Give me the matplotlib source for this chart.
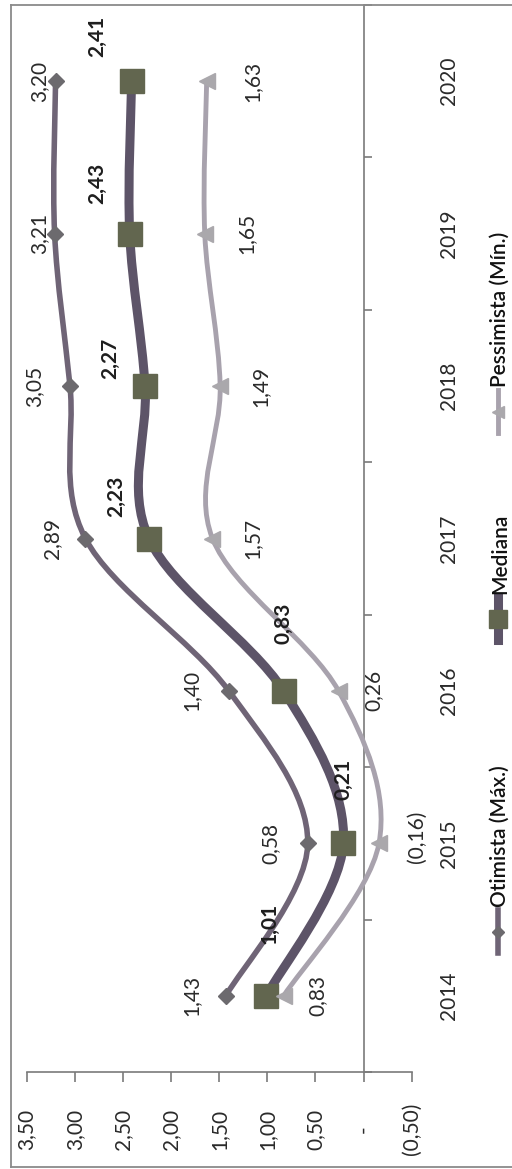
import matplotlib
matplotlib.use("Agg")
import matplotlib.pyplot as plt
from matplotlib.path import Path
from matplotlib.patches import PathPatch
from matplotlib.lines import Line2D
from matplotlib.ticker import FixedLocator
import numpy as np

# ---------------- data ----------------
years = ["2014", "2015", "2016", "2017", "2018", "2019", "2020"]
otimista = [1.43, 0.58, 1.40, 2.89, 3.05, 3.21, 3.20]
mediana = [1.01, 0.21, 0.83, 2.23, 2.27, 2.43, 2.41]
pessimista = [0.83, -0.16, 0.26, 1.57, 1.49, 1.65, 1.63]
value_ticks = [3.5, 3.0, 2.5, 2.0, 1.5, 1.0, 0.5, 0.0, -0.5]
series_names = ["Otimista (Máx.)", "Mediana", "Pessimista (Mín.)"]

# ---------------- styles ----------------
# label offsets in image pixels (dx to the right, dy upward)
oti_off = [(-35, 0), (-37, 0), (-37, 0), (-33, 0), (-36, 0), (-15, 0), (-16, 0)]
med_off = [(3, 72), (0, 64), (0, 68), (-33, 42), (-35, 28), (-32, 50), (-34, 45)]
pes_off = [(34, 0), (38, 7), (35, 0), (40, 0), (40, 0), (42, 0), (46, 0)]

c_oti = "#6f6476"
c_oti_m = "#6c6a6e"
c_med = "#5d5468"
c_med_m = "#62664f"
c_pes = "#a8a2ad"
c_pes_m = "#aaa8ac"
c_axis = "#7a7a7a"
c_text = "#2a2a2a"

plt.rcParams['font.family'] = ['Lato', 'DejaVu Sans']


def fmt(v):
    if abs(v) < 1e-9:
        return "-"
    s = f"{abs(v):.2f}".replace(".", ",")
    return f"({s})" if v < 0 else s


def smooth_path(xs, ys):
    pts = np.column_stack([xs, ys]).astype(float)
    n = len(pts)
    verts = [pts[0]]
    codes = [Path.MOVETO]
    for i in range(n - 1):
        p0 = pts[i - 1] if i > 0 else pts[i]
        p1 = pts[i]
        p2 = pts[i + 1]
        p3 = pts[i + 2] if i + 2 < n else pts[i + 1]
        c1 = p1 + (p2 - p0) / 6.0
        c2 = p2 - (p3 - p1) / 6.0
        verts += [c1, c2, p2]
        codes += [Path.CURVE4] * 3
    return Path(verts, codes)


W, H = 512, 1169
fig = plt.figure(figsize=(W / 100, H / 100), dpi=100)


def px_rect(x0, y0, x1, y1):
    return [x0 / W, 1 - y1 / H, (x1 - x0) / W, (y1 - y0) / H]


def fpt(x, y):
    return (x / W, 1 - y / H)


ax = fig.add_axes(px_rect(26.7, 5, 411.7, 1072))
ax.set_xlim(3.5, -0.5)
ax.set_ylim(-0.5, len(years) - 0.5)
ax.patch.set_alpha(0)

idx = np.arange(len(years))

# series (rotated chart: value on x, year on y)
specs = [
    (otimista, c_oti, 4.0, "D", 8, c_oti_m, oti_off, dict(color=c_text, fontweight="normal")),
    (mediana, c_med, 6.5, "s", 17, c_med_m, med_off, dict(color="#1e1e1e", fontweight="bold")),
    (pessimista, c_pes, 3.5, "<", 11, c_pes_m, pes_off, dict(color=c_text, fontweight="normal")),
]
for vals, lc, lw, mk, ms, mc, offs, tkw in specs:
    path = smooth_path(vals, idx)
    ax.add_patch(PathPatch(path, facecolor="none", edgecolor=lc, lw=lw,
                           capstyle="round", joinstyle="round", zorder=3))
    ax.plot(vals, idx, linestyle="none", marker=mk, markersize=ms,
            markerfacecolor=mc, markeredgecolor=mc, zorder=4)
    for v, i, (dx, dy) in zip(vals, idx, offs):
        ax.annotate(fmt(v), (v, i), xytext=(dx, dy), textcoords="offset pixels",
                    rotation=90, ha="center", va="center", fontsize=15, zorder=5, **tkw)

# axes styling
for s in ["top", "left"]:
    ax.spines[s].set_visible(False)
ax.spines["bottom"].set_color(c_axis)
ax.spines["bottom"].set_linewidth(1.2)
ax.spines["right"].set_position(("data", 0))
ax.spines["right"].set_color(c_axis)
ax.spines["right"].set_linewidth(1.2)

ax.set_xticks(value_ticks)
ax.set_xticklabels([fmt(v) for v in value_ticks], rotation=90, fontsize=15, color=c_text)
for lab in ax.get_xticklabels():
    lab.set_va("center")
ax.tick_params(axis="x", direction="out", length=7, width=1.2, color=c_axis, pad=34)

ax.yaxis.tick_right()
ax.set_yticks(idx)
ax.set_yticklabels(years, rotation=90, fontsize=15, color=c_text)
ax.yaxis.set_minor_locator(FixedLocator(np.arange(-0.5, len(years), 1.0)))
ax.tick_params(axis="y", which="major", length=0, pad=54)
ax.tick_params(axis="y", which="minor", direction="out", length=6, width=1.2, color=c_axis)
for lab in ax.get_yticklabels():
    lab.set_ha("left")
    lab.set_va("center")

# chart border
border = dict(color="#8a8a8a", lw=1.3, transform=fig.transFigure)
fig.add_artist(Line2D([fpt(11, 5)[0], fpt(11, 1167)[0]], [fpt(11, 5)[1], fpt(11, 1167)[1]], **border))
fig.add_artist(Line2D([fpt(11, 5)[0], 1.0], [fpt(11, 5)[1], fpt(11, 5)[1]], **border))
fig.add_artist(Line2D([fpt(11, 1167)[0], 1.0], [fpt(11, 1167)[1], fpt(11, 1167)[1]], **border))

# legend (rotated)
leg_pos = [(910, 953), (597, 640), (390, 433)]
leg_x = 498
for (name, (vals, lc, lw, mk, ms, mc, offs, tkw), (ya, yb)) in zip(series_names, specs, leg_pos):
    x0, y0 = fpt(leg_x, yb)
    x1, y1 = fpt(leg_x, ya)
    fig.add_artist(Line2D([x0, x1], [y0, y1], color=lc, lw=lw, transform=fig.transFigure))
    xm, ym = fpt(leg_x, (ya + yb) / 2)
    fig.add_artist(Line2D([xm], [ym], marker=mk, markersize=ms * 0.75, color=mc,
                          linestyle="none", transform=fig.transFigure))
    tx, ty = fpt(leg_x + 2, ya - 3)
    fig.text(tx, ty, name, rotation=90, ha="center", va="bottom", fontsize=15,
             color="#111111", fontweight="semibold")

fig.savefig("out.png", dpi=100, facecolor="white")
